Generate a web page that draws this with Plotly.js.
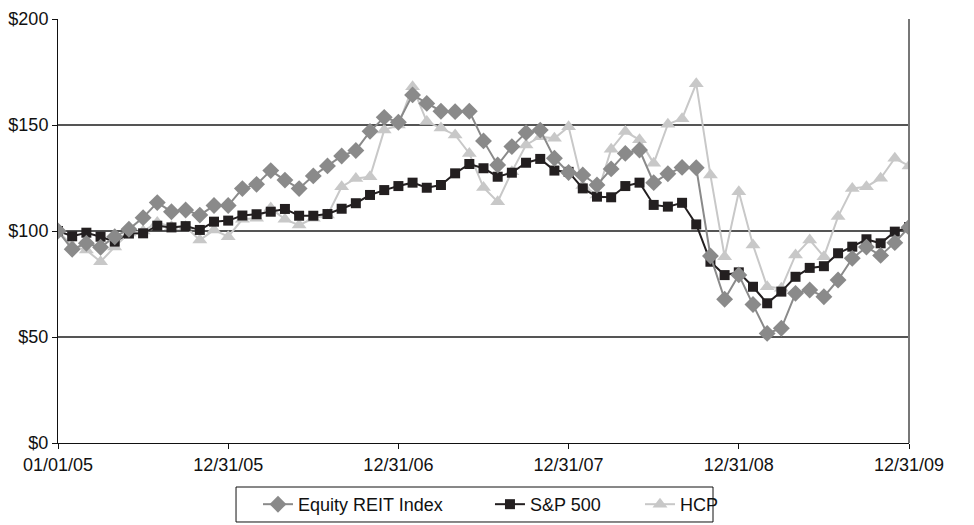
<!DOCTYPE html>
<html>
<head>
<meta charset="utf-8">
<script src="https://cdn.plot.ly/plotly-3.0.1.min.js"></script>
<style>html,body{margin:0;padding:0;background:#fff;}#chart{width:974px;height:525px;}</style>
</head>
<body>
<div id="chart"></div>
<script>
// Month-end values, 01/01/05 (index 0) through 12/31/09 (index 60)
const equityREIT = [100, 91.4, 94.2, 92.3, 97.3, 100.8, 106.3, 113.4, 109.1, 109.9, 107.5, 112, 112,
  120, 122, 128.5, 124, 120, 126, 130.7, 135.4, 138, 147, 153.6, 151.3,
  164.2, 160.2, 156.5, 156.3, 156.5, 142.5, 131.1, 139.8, 146.4, 147.6, 134.3, 127.6,
  126.4, 121.7, 129.3, 136.6, 138.2, 122.8, 127, 130, 129.8, 88.2, 67.8, 79.3,
  65.3, 51.7, 54.1, 70.6, 72.2, 69, 76.9, 87.1, 92.4, 88.5, 94.5, 101.8];
const sp500 = [100, 97.5, 99.2, 97.3, 95, 98.8, 98.9, 102.5, 101.7, 102.3, 100.5, 104.4, 104.9,
  107.3, 107.9, 109.1, 110.4, 107.2, 107.2, 108, 110.5, 113.1, 117, 119.3, 121.2,
  122.8, 120.4, 121.7, 127.2, 131.6, 129.6, 125.6, 127.5, 132.2, 134, 128.5, 127.9,
  120.1, 116.2, 115.9, 121.2, 122.8, 112.3, 111.5, 113.3, 103.1, 85.5, 79.2, 80.5,
  73.7, 65.9, 71.4, 78.4, 82.6, 83.4, 89.5, 92.6, 96.1, 94.2, 99.7, 101.8];
const hcp = [100, 93, 91, 85.5, 92.5, 99, 100, 104, 102, 102, 95.7, 100.5, 97.3,
  105.5, 106, 110.8, 105.5, 102.8, 106, 107.5, 120.9, 124.8, 125.6, 147.6, 150,
  168, 151.6, 148.6, 145.3, 136.6, 120.5, 113.8, 128, 140.6, 144.5, 143.7, 149.2,
  121.5, 117, 138.6, 146.9, 143, 131.9, 150.4, 153, 169.5, 126.4, 87.9, 118.5,
  93.4, 73.7, 73, 88.7, 95.8, 87.9, 106.8, 120.1, 120.9, 124.9, 134.3, 130.7];
const tickLabels = ['01/01/05', '12/31/05', '12/31/06', '12/31/07', '12/31/08', '12/31/09'];
const tickMonths = [0, 12, 24, 36, 48, 60];
const yTicks = [0, 50, 100, 150, 200];
const yTickLabels = ['$0', '$50', '$100', '$150', '$200'];

const months = equityREIT.map((_, i) => i);

const traces = [
  {x: months, y: hcp, name: 'HCP', mode: 'lines+markers', legend: 'legend3',
   line: {color: '#c8c8c8', width: 2},
   marker: {symbol: 'triangle-up', size: 13, color: '#c8c8c8'}},
  {x: months, y: sp500, name: 'S&P 500', mode: 'lines+markers', legend: 'legend2',
   line: {color: '#231f20', width: 2},
   marker: {symbol: 'square', size: 10, color: '#231f20'}},
  {x: months, y: equityREIT, name: 'Equity REIT Index', mode: 'lines+markers', legend: 'legend',
   line: {color: '#8a8a8a', width: 2},
   marker: {symbol: 'diamond', size: 13, color: '#8a8a8a'}}
];

const legendBase = {orientation: 'h', yanchor: 'middle', y: -0.145, xanchor: 'left',
  bgcolor: 'rgba(0,0,0,0)', borderwidth: 0, font: {size: 18, color: '#111'}};

const layout = {
  width: 974, height: 525,
  margin: {l: 58, r: 65, t: 19, b: 82, autoexpand: false},
  paper_bgcolor: '#fff', plot_bgcolor: '#fff',
  font: {family: 'Liberation Sans, Arial, sans-serif', size: 18, color: '#111'},
  showlegend: true,
  legend: Object.assign({}, legendBase, {x: 0.235}),
  legend2: Object.assign({}, legendBase, {x: 0.5076}),
  legend3: Object.assign({}, legendBase, {x: 0.6839}),
  xaxis: {range: [0, 60], tickvals: tickMonths, ticktext: tickLabels,
          showgrid: false, zeroline: false, showline: true, linecolor: '#111', linewidth: 1,
          ticks: 'outside', ticklen: 5, tickcolor: '#111', fixedrange: true},
  yaxis: {range: [0, 200], tickvals: yTicks, ticktext: yTickLabels,
          showgrid: true, gridcolor: '#555', gridwidth: 1.5, zeroline: false,
          showline: true, linecolor: '#111', linewidth: 1,
          ticks: 'outside', ticklen: 5, tickcolor: '#111', fixedrange: true},
  shapes: [
    {type: 'line', xref: 'paper', yref: 'paper', x0: 1, x1: 1, y0: 0, y1: 1,
     line: {color: '#777', width: 2}},
    {type: 'rect', xref: 'paper', yref: 'paper', x0: 0.2092, x1: 0.7697, y0: -0.1038, y1: -0.1863,
     line: {color: '#111', width: 1}, fillcolor: 'rgba(0,0,0,0)'}
  ]
};

Plotly.newPlot('chart', traces, layout, {displayModeBar: false, staticPlot: true});
</script>
</body>
</html>
